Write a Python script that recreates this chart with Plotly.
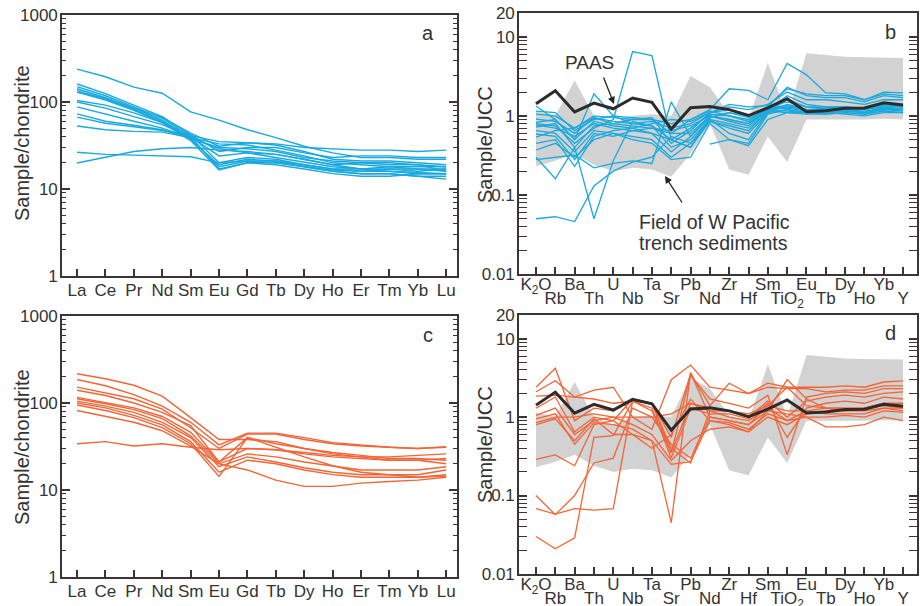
import math
import plotly.graph_objects as go

# ---------------- data ----------------
ree_labels = ["La", "Ce", "Pr", "Nd", "Sm", "Eu", "Gd", "Tb", "Dy", "Ho", "Er", "Tm", "Yb", "Lu"]
trace_labels = ["K<sub>2</sub>O", "Rb", "Ba", "Th", "U", "Nb", "Ta", "Sr", "Pb", "Nd",
                "Zr", "Hf", "Sm", "TiO<sub>2</sub>", "Eu", "Tb", "Dy", "Ho", "Yb", "Y"]

ree_blue = [
    [239, 195, 148, 126, 77, 62, 48, 39, 31, 26, 23, 23, 22, 22],
    [161, 125, 92, 68, 42, 20, 23, 22, 19, 17, 16, 17, 17, 17],
    [150, 118, 88, 65, 40, 17, 20, 20, 18, 16, 15, 15, 14, 14],
    [142, 112, 85, 62, 38, 18, 21, 21, 19, 17, 17, 18, 17, 16],
    [135, 108, 82, 60, 37, 19, 22, 21, 18, 16, 15, 15, 14, 13],
    [130, 105, 80, 58, 36, 16.5, 20, 19, 17, 15, 14, 14, 15, 15],
    [130, 110, 85, 66, 44, 31, 34, 32, 27, 22, 21, 21, 20, 19],
    [104, 92, 75, 58, 42, 27, 30, 30, 26, 23, 24, 24, 23, 23],
    [100, 85, 68, 55, 40, 24, 26, 25, 22, 19, 17, 17, 16, 17],
    [88, 72, 60, 50, 39, 33, 32, 28, 24, 20, 19, 18, 18, 18],
    [73, 60, 54, 48, 38, 30, 29, 27, 23, 21, 20, 19, 19, 16],
    [67, 57, 52, 47, 41, 35, 34, 33, 30, 29, 28, 28, 27, 28],
    [53, 48, 46, 45, 39, 29, 26, 23, 20, 18, 17, 16, 15, 15],
    [26.5, 25, 24.5, 24, 23.5, 20, 21, 20, 18, 16.5, 16, 16, 15.5, 15],
    [19.9, 23, 27, 29, 30, 28, 27, 25, 22, 19, 20, 20, 19, 18],
]

ree_orange = [
    [217, 190, 160, 120, 68, 38, 38, 36, 30, 26, 24, 22, 22, 23],
    [186, 158, 125, 92, 60, 33, 45, 45, 40, 35, 33, 31, 30, 31],
    [152, 130, 112, 85, 52, 30, 44, 44, 38, 34, 32, 31, 30, 31.5],
    [140, 122, 100, 78, 55, 21, 40, 34, 30, 27, 25, 23, 23, 22],
    [116, 102, 88, 70, 46, 21, 30, 29, 26, 24, 23, 22, 22, 20],
    [112, 98, 84, 66, 42, 20, 26, 24, 21, 19, 17, 17, 17, 18.5],
    [105, 92, 78, 60, 40, 18.5, 24, 21, 18, 16, 15, 15, 15, 17],
    [100, 88, 72, 56, 36, 16, 22, 20, 17, 15, 14, 14, 14, 15],
    [95, 82, 68, 52, 34, 14.3, 40, 31, 24, 19, 16, 15, 14, 14.5],
    [82, 70, 60, 48, 32, 20, 17, 13, 11, 11, 12, 12.5, 13, 14],
    [34, 36, 32, 34, 31, 29, 30, 29, 27, 25, 24, 24, 25, 26],
]

paas = [1.42, 2.08, 1.12, 1.45, 1.23, 1.68, 1.48, 0.68, 1.27, 1.31,
        1.2, 1.01, 1.26, 1.65, 1.13, 1.16, 1.25, 1.26, 1.46, 1.37]

field_upper = [1.15, 1.0, 2.8, 1.0, 0.8, 1.0, 1.05, 1.0, 3.2, 2.3,
               1.05, 0.9, 4.7, 1.0, 6.2, 5.9, 5.6, 5.5, 5.4, 5.4]
field_lower = [0.23, 0.27, 0.33, 0.24, 0.2, 0.22, 0.21, 0.17, 0.33, 0.8,
               0.21, 0.18, 0.55, 0.26, 0.9, 0.9, 0.9, 0.9, 0.92, 0.9]

trace_blue = [
    [0.05, 0.053, 0.046, 0.13, 0.2, 0.26, 0.3, 0.55, 0.45, 0.85, 0.7, 0.6, 1.1, 1.2, 1.1, 1.1, 1.15, 1.1, 1.2, 1.2],
    [0.3, 0.16, 0.4, 0.05, 0.27, 0.85, 0.75, 0.4, 0.5, 0.9, 0.8, 0.7, 1.15, 1.1, 1.05, 1.05, 1.1, 1.05, 1.15, 1.1],
    [0.8, 0.75, 0.45, 0.7, 0.9, 6.5, 5.8, 0.5, 0.4, 0.95, 1.1, 1.0, 1.3, 1.5, 1.3, 1.3, 1.3, 1.2, 1.4, 1.35],
    [1.33, 0.9, 0.5, 1.9, 1.0, 0.8, 0.85, 0.7, 0.8, 1.1, 1.3, 1.2, 1.4, 2.0, 1.6, 1.6, 1.5, 1.4, 1.6, 1.6],
    [0.28, 0.3, 0.32, 0.22, 0.25, 0.27, 0.25, 1.5, 0.55, 1.0, 0.9, 0.8, 1.2, 1.3, 1.2, 1.2, 1.2, 1.15, 1.25, 1.2],
    [1.05, 1.0, 0.7, 1.0, 0.95, 0.9, 0.9, 0.8, 0.9, 1.2, 2.2, 2.1, 1.6, 4.6, 3.3, 1.95, 1.9, 1.6, 2.0, 1.95],
    [None, None, None, None, None, None, None, None, None, 0.44, 0.5, 0.42, 0.9, 1.1, 1.1, 1.1, 1.05, 1.0, 1.1, 1.1],
    [0.91, 0.85, 0.6, 0.95, 0.85, 0.8, 0.75, 0.5, 0.7, 1.05, 1.0, 0.9, 1.25, 1.3, 1.2, 1.2, 1.25, 1.2, 1.3, 1.3],
    [0.83, 0.9, 0.5, 0.85, 0.75, 0.7, 0.6, 0.35, 0.55, 0.95, 1.1, 0.95, 1.2, 1.8, 1.4, 1.3, 1.3, 1.25, 1.4, 1.35],
    [0.77, 0.7, 0.55, 0.8, 0.7, 0.65, 0.7, 0.6, 0.6, 1.0, 0.9, 0.8, 1.2, 1.25, 1.15, 1.15, 1.2, 1.1, 1.25, 1.25],
    [0.72, 0.8, 0.4, 0.75, 0.8, 0.9, 0.95, 0.45, 0.65, 1.1, 1.2, 1.0, 1.3, 2.3, 1.8, 1.7, 1.7, 1.5, 1.8, 1.7],
    [0.65, 0.6, 0.35, 0.65, 0.6, 0.55, 0.5, 0.3, 0.45, 0.9, 0.6, 0.5, 1.1, 1.4, 1.2, 1.2, 1.2, 1.1, 1.3, 1.2],
    [0.59, 0.55, 0.28, 0.6, 0.55, 0.65, 0.6, 0.5, 0.4, 0.85, 0.75, 0.65, 1.15, 1.6, 1.3, 1.25, 1.25, 1.2, 1.35, 1.3],
    [0.54, 0.65, 0.7, 0.95, 0.8, 0.75, 0.7, 0.65, 0.75, 1.0, 0.85, 0.75, 1.2, 1.15, 1.1, 1.1, 1.15, 1.1, 1.2, 1.15],
    [0.37, 0.45, 0.3, 0.5, 0.6, 0.5, 0.45, 0.28, 0.3, 0.8, 0.5, 0.45, 1.05, 1.2, 1.1, 1.05, 1.1, 1.05, 1.15, 1.1],
    [0.45, 0.5, 0.23, 0.55, 0.65, 0.7, 0.8, 0.9, 0.85, 1.1, 1.4, 1.3, 1.35, 2.2, 1.9, 1.8, 1.8, 1.6, 1.9, 1.8],
    [1.15, 1.1, 0.65, 0.9, 1.0, 0.95, 0.9, 0.6, 0.9, 1.15, 1.0, 0.85, 1.25, 1.35, 1.2, 1.25, 1.3, 1.2, 1.4, 1.35],
]

trace_orange = [
    [0.03, 0.021, 0.029, 0.55, 0.58, 1.6, 1.2, 0.35, 1.5, 1.2, 1.0, 0.9, 1.3, 0.9, 1.2, 1.3, 1.3, 1.3, 1.5, 1.4],
    [0.068, 0.058, 0.068, 0.065, 0.068, 1.6, 1.3, 0.3, 1.3, 1.1, 1.1, 0.95, 1.5, 0.55, 1.3, 1.5, 1.6, 1.5, 1.8, 1.7],
    [0.1, 0.057, 0.1, 0.26, 0.3, 1.3, 1.0, 0.45, 0.3, 1.0, 0.9, 0.8, 1.4, 1.2, 1.2, 1.1, 1.1, 1.1, 1.3, 1.2],
    [0.29, 0.33, 0.24, 0.8, 0.9, 0.6, 0.5, 0.25, 0.27, 0.9, 0.8, 0.65, 1.2, 3.0, 1.7, 1.3, 1.2, 1.3, 1.4, 1.3],
    [2.4, 4.2, 0.9, 1.3, 1.2, 1.7, 1.5, 0.55, 3.6, 1.4, 2.7, 2.0, 2.7, 2.4, 2.4, 2.4, 2.5, 2.4, 2.8, 2.9],
    [2.1, 2.9, 1.8, 2.2, 2.4, 1.0, 0.7, 3.0, 4.6, 2.4, 2.2, 2.0, 2.4, 2.3, 2.3, 2.1, 2.2, 2.2, 2.5, 2.5],
    [1.85, 1.9, 1.8, 1.7, 1.5, 1.6, 1.5, 0.35, 3.4, 1.7, 1.5, 1.3, 1.9, 0.33, 1.8, 2.0, 2.1, 2.0, 2.3, 2.3],
    [1.3, 1.8, 0.65, 1.0, 0.9, 1.7, 1.5, 0.4, 0.26, 1.2, 1.2, 1.0, 1.6, 1.0, 1.6, 1.8, 1.9, 1.8, 2.0, 2.1],
    [1.05, 1.3, 0.6, 0.9, 1.0, 1.0, 1.0, 1.1, 1.5, 1.3, 1.2, 1.1, 1.4, 2.4, 1.4, 1.3, 1.3, 1.3, 1.5, 1.5],
    [0.95, 1.1, 0.45, 0.85, 0.8, 0.7, 0.5, 0.045, 3.7, 1.0, 0.9, 0.8, 1.2, 1.1, 1.0, 0.75, 0.75, 0.8, 1.0, 0.9],
    [0.8, 0.95, 0.5, 0.95, 0.6, 0.6, 0.4, 0.6, 1.7, 0.9, 0.85, 0.7, 1.1, 0.9, 1.0, 1.0, 1.05, 1.0, 1.2, 1.15],
    [0.85, 1.0, 1.0, 1.1, 1.0, 0.8, 0.6, 0.28, 0.5, 0.7, 0.75, 0.65, 1.0, 0.8, 1.1, 1.2, 1.2, 1.2, 1.3, 1.3],
]

# ---------------- style ----------------
BLUE = "#1aa9de"
ORANGE = "#f26536"
DARK = "#2e2b2b"
AXC = "#3b3535"
TXT = "#333333"
GREY = "#d2d2d2"
FONT = "Liberation Sans, Arial, sans-serif"
W, H = 920, 606

fig = go.Figure()

ree_x = list(range(len(ree_labels)))
tr_x = list(range(len(trace_labels)))

for s in ree_blue:
    fig.add_trace(go.Scatter(x=ree_x, y=s, mode="lines", line=dict(color=BLUE, width=1.4),
                             xaxis="x", yaxis="y", showlegend=False, hoverinfo="skip"))
for s in ree_orange:
    fig.add_trace(go.Scatter(x=ree_x, y=s, mode="lines", line=dict(color=ORANGE, width=1.4),
                             xaxis="x3", yaxis="y3", showlegend=False, hoverinfo="skip"))

for xa, ya, series, col in [("x2", "y2", trace_blue, BLUE), ("x4", "y4", trace_orange, ORANGE)]:
    fig.add_trace(go.Scatter(x=tr_x + tr_x[::-1], y=field_upper + field_lower[::-1],
                             mode="lines", fill="toself", fillcolor=GREY, line=dict(width=0, color=GREY),
                             xaxis=xa, yaxis=ya, showlegend=False, hoverinfo="skip"))
    for s in series:
        fig.add_trace(go.Scatter(x=tr_x, y=s, mode="lines", line=dict(color=col, width=1.3),
                                 connectgaps=False, xaxis=xa, yaxis=ya, showlegend=False, hoverinfo="skip"))
    fig.add_trace(go.Scatter(x=tr_x, y=paas, mode="lines", line=dict(color=DARK, width=3),
                             xaxis=xa, yaxis=ya, showlegend=False, hoverinfo="skip"))

# dummy traces for the second-row label axes
fig.add_trace(go.Scatter(x=[], y=[], xaxis="x5", yaxis="y2", showlegend=False))
fig.add_trace(go.Scatter(x=[], y=[], xaxis="x6", yaxis="y4", showlegend=False))


def px(v):
    return v / W


def py(v):
    return 1 - v / H


dom_left = [px(62), px(457)]
dom_right = [px(519), px(917)]
dom_top_a = [py(276), py(15)]
dom_top_b = [py(274), py(13)]
dom_bot_c = [py(577), py(316)]
dom_bot_d = [py(574), py(315)]

tickfont = dict(family=FONT, size=17, color=TXT)


def xaxis_common(domain, anchor, rng, vals, text, standoff):
    return dict(domain=domain, anchor=anchor, range=rng, tickmode="array", tickvals=vals, ticktext=text,
                ticks="inside", ticklen=7, tickwidth=1.5, tickcolor=AXC, showline=True, linecolor=AXC,
                linewidth=1.6, mirror=True, showgrid=False, zeroline=False, tickfont=tickfont,
                automargin=False, ticklabelstandoff=standoff)


def minor_vals(lo, hi):
    out = []
    for e in range(lo, hi):
        for m in range(2, 10):
            out.append(m * 10 ** e)
    return out


def yaxis_common(domain, anchor, rng, vals, text, minors):
    return dict(domain=domain, anchor=anchor, type="log", range=rng, tickmode="array", tickvals=vals,
                ticktext=text, ticks="inside", ticklen=8, tickwidth=1.5, tickcolor=AXC, showline=True,
                linecolor=AXC, linewidth=1.6, mirror="allticks", showgrid=False, zeroline=False,
                tickfont=tickfont, automargin=False, ticklabelstandoff=-1,
                minor=dict(tickmode="array", tickvals=minors, ticks="inside", ticklen=4, tickwidth=1.2,
                           tickcolor=AXC, showgrid=False))


ree_rng = [-0.53, len(ree_labels) - 1 + 0.38]
tr_rng = [-0.88, len(trace_labels) - 1 + 0.72]
even_text = [t if i % 2 == 0 else "" for i, t in enumerate(trace_labels)]
odd_vals = [i for i in tr_x if i % 2 == 1]
odd_text = [trace_labels[i] for i in odd_vals]

ree_y_vals = [1, 10, 100, 1000]
ree_y_text = ["1", "10", "100", "1000"]
tr_y_vals = [0.01, 0.1, 1, 10, 20]
tr_y_text = ["0.01", "0.1", "1", "10", "20"]

layout = dict(
    width=W, height=H, margin=dict(l=0, r=0, t=0, b=0),
    paper_bgcolor="white", plot_bgcolor="white", showlegend=False,
    font=dict(family=FONT, color=TXT),
    xaxis=xaxis_common(dom_left, "y", ree_rng, ree_x, ree_labels, -2),
    yaxis=yaxis_common(dom_top_a, "x", [0, 3], ree_y_vals, ree_y_text, minor_vals(0, 3)),
    xaxis3=xaxis_common(dom_left, "y3", ree_rng, ree_x, ree_labels, -2),
    yaxis3=yaxis_common(dom_bot_c, "x3", [0, 3], ree_y_vals, ree_y_text, minor_vals(0, 3)),
    xaxis2=xaxis_common(dom_right, "y2", tr_rng, tr_x, even_text, -6),
    yaxis2=yaxis_common(dom_top_b, "x2", [-2, math.log10(20)], tr_y_vals, tr_y_text, minor_vals(-2, 1)),
    xaxis4=xaxis_common(dom_right, "y4", tr_rng, tr_x, even_text, -6),
    yaxis4=yaxis_common(dom_bot_d, "x4", [-2, math.log10(20)], tr_y_vals, tr_y_text, minor_vals(-2, 1)),
)
for k, ov, anc in [("xaxis5", "x2", "y2"), ("xaxis6", "x4", "y4")]:
    layout[k] = dict(overlaying=ov, anchor=anc, domain=dom_right, range=tr_rng, tickmode="array",
                     tickvals=odd_vals, ticktext=odd_text, ticks="", showline=False, showgrid=False,
                     zeroline=False, tickfont=tickfont, ticklabelstandoff=12, automargin=False, side="bottom")

fig.update_layout(**layout)

ann = []
ytitle_font = dict(family=FONT, size=20, color=TXT)
for x0, y0, t in [(22, 143, "Sample/chondrite"), (485, 145, "Sample/UCC"),
                  (22, 447, "Sample/chondrite"), (485, 445, "Sample/UCC")]:
    ann.append(dict(x=px(x0), y=py(y0), xref="paper", yref="paper", text=t, textangle=-90,
                    showarrow=False, font=ytitle_font, xanchor="center", yanchor="middle"))
for x0, y0, t in [(428, 33, "a"), (890, 32, "b"), (428, 335, "c"), (890, 333, "d")]:
    ann.append(dict(x=px(x0), y=py(y0), xref="paper", yref="paper", text=t, showarrow=False,
                    font=dict(family=FONT, size=20, color=TXT), xanchor="center", yanchor="middle"))

ann.append(dict(x=px(589), y=py(62), xref="paper", yref="paper", text="PAAS", showarrow=False,
                font=dict(family=FONT, size=19, color=TXT), xanchor="center", yanchor="middle"))
ann.append(dict(x=px(614), y=py(104), xref="paper", yref="paper", text="", showarrow=True,
                ax=-11, ay=-28, arrowhead=2, arrowsize=1.1, arrowwidth=1.3, arrowcolor="#222", standoff=0))
for y0, t in [(222, "Field of W Pacific"), (243, "trench sediments")]:
    ann.append(dict(x=px(637), y=py(y0), xref="paper", yref="paper", text=t, showarrow=False,
                    font=dict(family=FONT, size=19.5, color=TXT), xanchor="left", yanchor="middle"))
ann.append(dict(x=px(665), y=py(176), xref="paper", yref="paper", text="", showarrow=True,
                ax=18, ay=28, arrowhead=2, arrowsize=1.1, arrowwidth=1.3, arrowcolor="#222", standoff=0))

fig.update_layout(annotations=ann)

# remove the default 8px page margin so the figure sits at the window's top-left corner
fig.write_html("out.html", config={"displayModeBar": False},
               post_script="document.body.style.margin='0px';")
